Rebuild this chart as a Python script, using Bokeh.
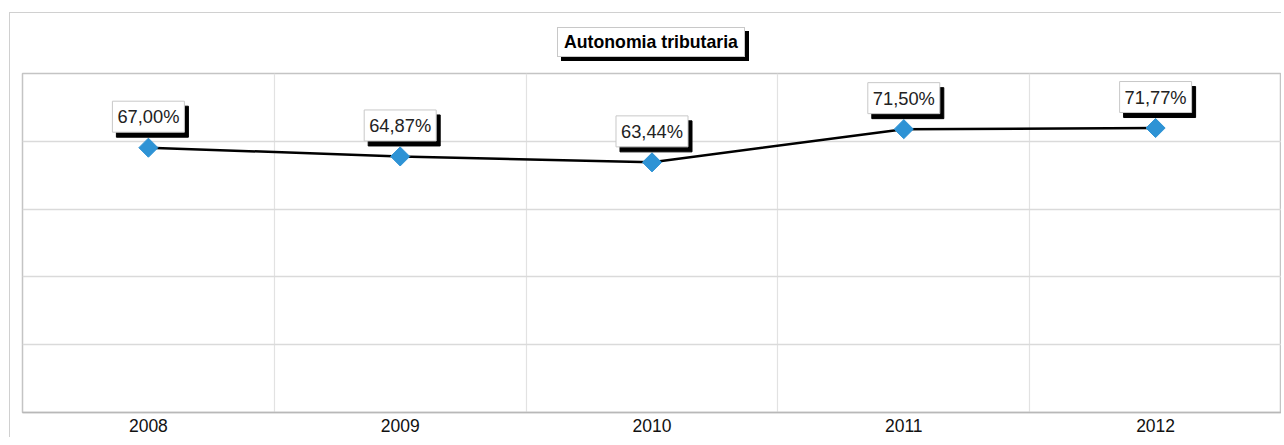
from bokeh.plotting import figure
from bokeh.models import Range1d, FixedTicker, ColumnDataSource, Div
from bokeh.layouts import column
from bokeh.core.properties import value
from bokeh.embed import file_html
from bokeh.resources import INLINE
import math

years = ["2008", "2009", "2010", "2011", "2012"]
autonomia = [67.00, 64.87, 63.44, 71.50, 71.77]
labels = [f"{v:.2f}".replace(".", ",") + "%" for v in autonomia]
title_text = "Autonomia tributaria"

xs = list(range(len(years)))
src = ColumnDataSource(dict(x=xs, y=autonomia, lab=labels))

W = 1271
y0, y1 = 2.75, 85.0
p = figure(width=W, height=374, output_backend="svg", toolbar_location=None,
           x_range=Range1d(-0.5, len(years) - 0.5), y_range=Range1d(y0, y1),
           y_axis_location=None, min_border_left=12, min_border_right=0,
           min_border_top=10, min_border_bottom=25)
p.background_fill_color = "white"
p.border_fill_color = "white"
p.outline_line_color = "#c4c4c4"
p.outline_line_width = 1.5

step = (y1 - y0) / 5
p.ygrid.ticker = FixedTicker(ticks=[y0 + step * i for i in range(1, 5)])
p.ygrid.grid_line_color = "#dadada"
p.ygrid.grid_line_width = 1.5
p.xgrid.ticker = FixedTicker(ticks=[i + 0.5 for i in xs[:-1]])
p.xgrid.grid_line_color = "#e2e2e2"
p.xgrid.grid_line_width = 1.2

ax = p.xaxis[0]
ax.ticker = FixedTicker(ticks=xs)
ax.major_label_overrides = {i: y for i, y in zip(xs, years)}
ax.major_tick_line_color = None
ax.minor_tick_line_color = None
ax.axis_line_color = "#b8b8b8"
ax.axis_line_width = 1.5
ax.major_label_standoff = 0
ax.major_label_text_font = "Liberation Sans"
ax.major_label_text_font_size = "17.5px"
ax.major_label_text_color = "#111111"

p.line("x", "y", source=src, line_color="black", line_width=2.5)
p.scatter("x", "y", source=src, marker="square", size=13.5, angle=math.pi / 4,
          fill_color="#2E93D5", line_color="#2E93D5")

# label shadows
p.text("x", "y", text="lab", source=src, x_offset=4, y_offset=-26,
       text_font=value("Liberation Sans"), text_font_size="18.3px",
       text_color="black", text_align="center", text_baseline="middle",
       background_fill_color="black", border_line_color="black", padding=5)
# labels
p.text("x", "y", text="lab", source=src, x_offset=0, y_offset=-31,
       text_font=value("Liberation Sans"), text_font_size="18.3px",
       text_color="#222222", text_align="center", text_baseline="middle",
       background_fill_color="white", border_line_color="#c8c8c8",
       border_line_width=1, padding=5)

title_html = (
    '<div style="position:absolute;left:547px;top:14px;'
    'font-family:\'Liberation Sans\';font-weight:bold;font-size:17.7px;line-height:20px;'
    'color:#000;background:#fff;border:1px solid #c8c8c8;padding:4px 6px;'
    'box-shadow:4px 4px 0 #000;white-space:nowrap;">' + title_text + '</div>'
)
div = Div(text=title_html, width=W, height=50, margin=0,
          styles={"position": "relative"})

layout = column(div, p, margin=(12, 0, 0, 9), spacing=0,
                styles={"border-left": "1px solid #d0d0d0",
                        "border-top": "1px solid #d0d0d0"})

open("out.html", "w").write(file_html(layout, INLINE))
